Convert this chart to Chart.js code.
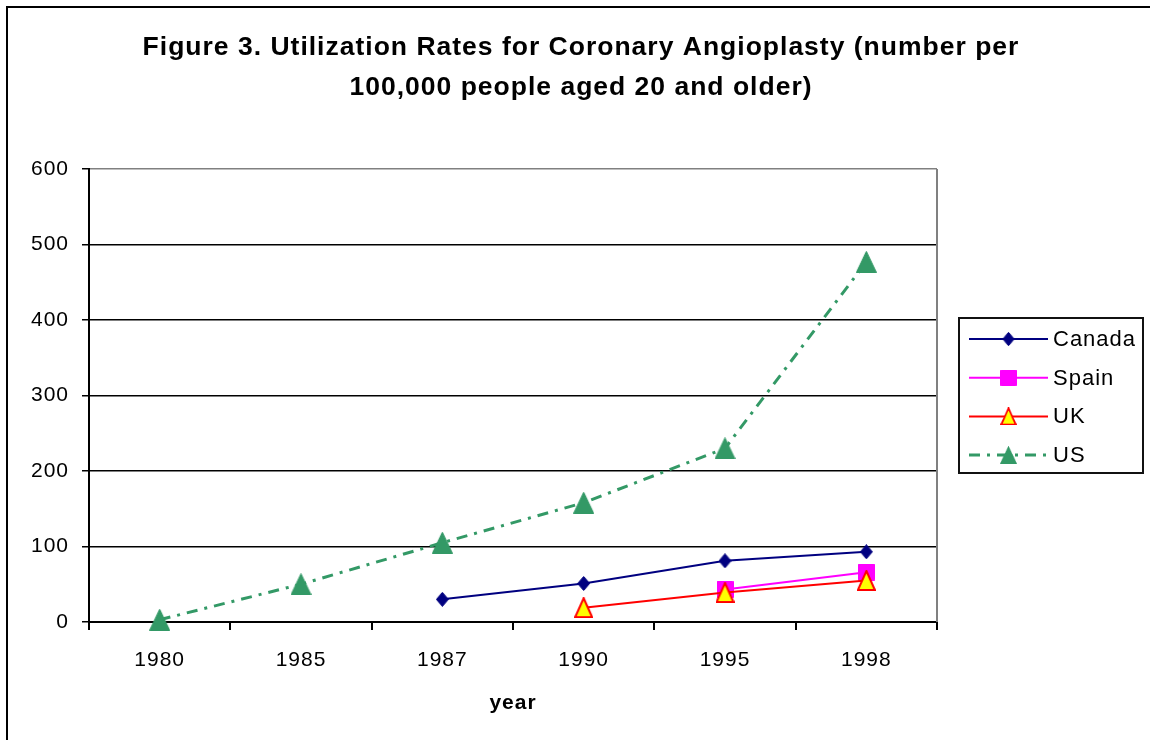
<!DOCTYPE html>
<html>
<head>
<meta charset="utf-8">
<script src="https://cdn.jsdelivr.net/npm/chart.js@4/dist/chart.umd.min.js"></script>
<style>
  html, body { margin: 0; padding: 0; background: #fff; }
  #wrap { position: relative; width: 1150px; height: 740px; }
</style>
</head>
<body>
<div id="wrap"><canvas id="c" width="1150" height="740"></canvas></div>
<script>
const years = ['1980', '1985', '1987', '1990', '1995', '1998'];
const canada = [null, null, 30, 51, 81, 93];
const spain = [null, null, null, null, 43, 66];
const uk = [null, null, null, 19, 39, 55];
const us = [3, 50, 105, 158, 230, 477];
const yTicks = [0, 100, 200, 300, 400, 500, 600];
const titleLines = ['Figure 3. Utilization Rates for Coronary Angioplasty (number per', '100,000 people aged 20 and older)'];
const xTitle = 'year';

const FONT = "'Liberation Sans', Arial, sans-serif";

function makeMarker(shape, w, h, fill, stroke, lw) {
  const c = document.createElement('canvas');
  c.width = w; c.height = h;
  const g = c.getContext('2d');
  g.fillStyle = fill;
  g.strokeStyle = stroke;
  g.lineWidth = lw;
  g.lineJoin = 'miter';
  const p = lw / 2;
  g.beginPath();
  if (shape === 'triangle') {
    g.moveTo(w / 2, p);
    g.lineTo(w - p, h - p);
    g.lineTo(p, h - p);
  } else if (shape === 'diamond') {
    g.moveTo(w / 2, p);
    g.lineTo(w - p, h / 2);
    g.lineTo(w / 2, h - p);
    g.lineTo(p, h / 2);
  } else {
    g.rect(p, p, w - lw, h - lw);
  }
  g.closePath();
  g.fill();
  if (lw > 0) g.stroke();
  return c;
}

const mkCanada = makeMarker('diamond', 13, 15, '#000080', '#000080', 1);
const mkSpain = makeMarker('square', 17, 17, '#FF00FF', '#FF00FF', 1);
const mkUK = makeMarker('triangle', 19, 21, '#FFFF00', '#FF0000', 2);
const mkUS = makeMarker('triangle', 21, 22, '#339966', '#339966', 1);

const framePlugin = {
  id: 'frame',
  beforeDraw(chart) {
    const ctx = chart.ctx;
    ctx.letterSpacing = '1px';
    ctx.save();
    ctx.fillStyle = '#fff';
    ctx.fillRect(0, 0, chart.width, chart.height);
    ctx.strokeStyle = '#000';
    ctx.lineWidth = 2;
    ctx.strokeRect(7, 7, chart.width + 50, chart.height + 50);
    ctx.restore();
  },
  afterDatasetsDraw(chart) {
    const ctx = chart.ctx;
    const a = chart.chartArea;
    ctx.save();
    ctx.strokeStyle = '#808080';
    ctx.lineWidth = 2;
    ctx.beginPath();
    ctx.moveTo(a.right, a.top);
    ctx.lineTo(a.right, a.bottom);
    ctx.stroke();
    ctx.restore();
  }
};

const legendPlugin = {
  id: 'customLegend',
  afterDraw(chart) {
    const ctx = chart.ctx;
    const a = chart.chartArea;
    const bx = a.right + 22, by = 318, bw = 184, bh = 155;
    ctx.save();
    ctx.fillStyle = '#fff';
    ctx.fillRect(bx, by, bw, bh);
    ctx.strokeStyle = '#111';
    ctx.lineWidth = 2;
    ctx.strokeRect(bx, by, bw, bh);
    const rowH = 38.7;
    chart.data.datasets.forEach((ds, i) => {
      const cy = by + 21 + i * rowH;
      const x0 = bx + 10, x1 = bx + 89;
      ctx.save();
      ctx.strokeStyle = ds.borderColor;
      ctx.lineWidth = ds.borderWidth;
      ctx.setLineDash(ds.borderDash || []);
      ctx.beginPath();
      ctx.moveTo(x0, cy);
      ctx.lineTo(x1, cy);
      ctx.stroke();
      ctx.restore();
      const img = ds.pointStyle;
      const s = ds.legendScale || 1;
      const mw = img.width * s, mh = img.height * s;
      ctx.drawImage(img, (x0 + x1) / 2 - mw / 2, cy - mh / 2, mw, mh);
      ctx.fillStyle = '#000';
      ctx.font = '22px ' + FONT;
      ctx.textBaseline = 'middle';
      ctx.textAlign = 'left';
      ctx.fillText(ds.label, x1 + 5, cy + 1);
    });
    ctx.restore();
  }
};

new Chart(document.getElementById('c'), {
  type: 'line',
  data: {
    labels: years,
    datasets: [
      { label: 'Canada', data: canada, borderColor: '#000080', borderWidth: 2,
        pointStyle: mkCanada, pointRadius: 7, order: 2, clip: false, legendScale: 0.95 },
      { label: 'Spain', data: spain, borderColor: '#FF00FF', borderWidth: 2,
        pointStyle: mkSpain, pointRadius: 8, order: 1, clip: false, legendScale: 0.95 },
      { label: 'UK', data: uk, borderColor: '#FF0000', borderWidth: 2,
        pointStyle: mkUK, pointRadius: 10, order: 0, clip: false, legendScale: 0.85 },
      { label: 'US', data: us, borderColor: '#339966', borderWidth: 3, borderDash: [11, 7, 3, 7],
        pointStyle: mkUS, pointRadius: 11, order: 3, clip: false, legendScale: 0.8 }
    ]
  },
  options: {
    responsive: false,
    animation: false,
    devicePixelRatio: 1,
    layout: { padding: { left: 12, right: 0, top: 0, bottom: 0 } },
    plugins: {
      legend: { display: false },
      tooltip: { enabled: false },
      title: {
        display: true,
        text: titleLines,
        color: '#000',
        font: { family: FONT, size: 26.5, weight: 'bold', lineHeight: 40 / 26.5 },
        padding: { top: 28, bottom: 61 },
        align: 'center'
      }
    },
    scales: {
      x: {
        type: 'category',
        offset: true,
        afterFit(scale) { scale.height = 118; },
        grid: { display: true, drawOnChartArea: false, drawTicks: true, tickLength: 8,
                offset: true, color: '#000', lineWidth: 2 },
        border: { display: true, color: '#000', width: 2 },
        ticks: { color: '#000', font: { family: FONT, size: 21 }, padding: 18, maxRotation: 0 },
        title: { display: true, text: xTitle, color: '#000',
                 font: { family: FONT, size: 21, weight: 'bold' }, padding: { top: 0, bottom: 24 } }
      },
      y: {
        min: 0, max: 600,
        afterFit(scale) { scale.width = 77; },
        afterBuildTicks(scale) { scale.ticks = yTicks.map(v => ({ value: v })); },
        grid: {
          color: ctx => (ctx.tick && ctx.tick.value === 600 ? '#808080' : '#000'),
          lineWidth: 1.5, tickLength: 7, tickColor: '#000', drawTicks: true
        },
        border: { display: true, color: '#000', width: 2 },
        ticks: { color: '#000', font: { family: FONT, size: 21 }, padding: 13, stepSize: 100 }
      },
      legendSpace: {
        position: 'right',
        min: 0, max: 1,
        afterFit(scale) { scale.width = 213; },
        grid: { display: false, drawOnChartArea: false, drawTicks: false },
        border: { display: false },
        ticks: { display: false }
      }
    }
  },
  plugins: [framePlugin, legendPlugin]
});
</script>
</body>
</html>
